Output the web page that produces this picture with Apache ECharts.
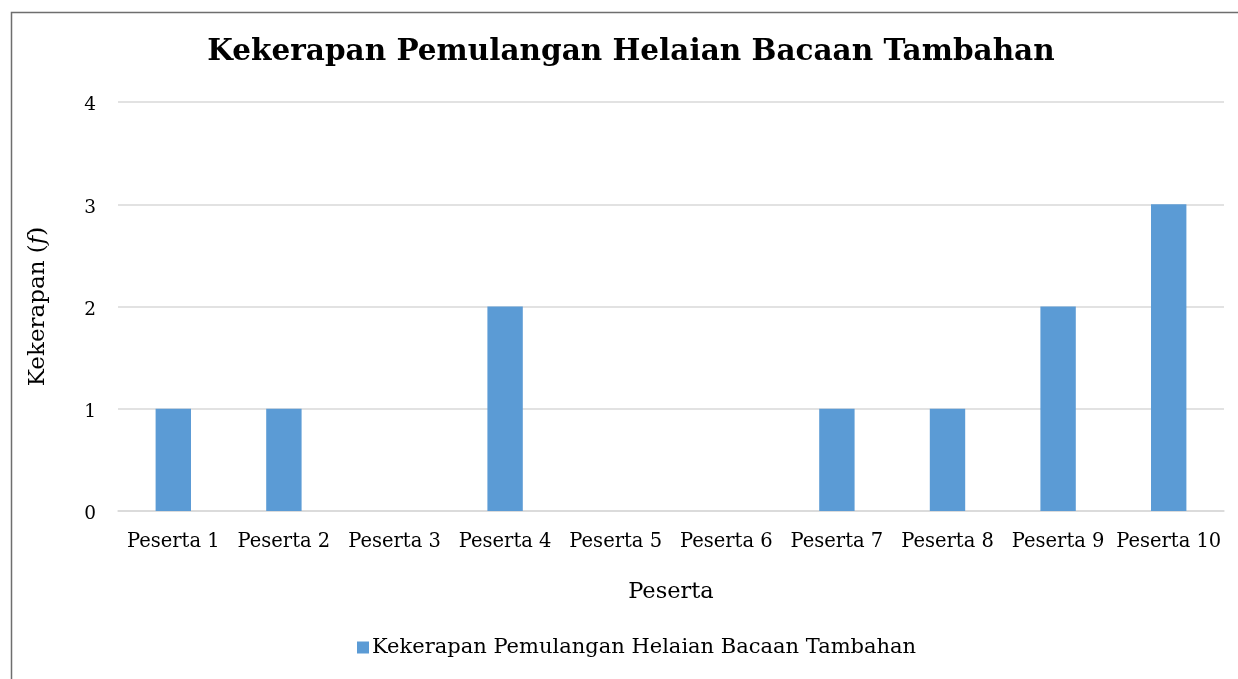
<!DOCTYPE html>
<html><head><meta charset="utf-8">
<script src="https://cdn.jsdelivr.net/npm/echarts@6/dist/echarts.min.js"></script>
<style>html,body{margin:0;padding:0;background:#fff;}#c{width:1238px;height:679px;}</style>
</head><body><div id="c"></div>
<script>
const categories = ['Peserta 1','Peserta 2','Peserta 3','Peserta 4','Peserta 5','Peserta 6','Peserta 7','Peserta 8','Peserta 9','Peserta 10'];
const values = [1, 1, 0, 2, 0, 0, 1, 1, 2, 3];
const seriesName = 'Kekerapan Pemulangan Helaian Bacaan Tambahan';
const titleText = 'Kekerapan Pemulangan Helaian Bacaan Tambahan';
const xName = 'Peserta';
const yTicks = [0, 1, 2, 3, 4];

const FONT = 'Georgia, "DejaVu Serif", serif';
const chart = echarts.init(document.getElementById('c'), null, {renderer: 'canvas'});
chart.setOption({
  backgroundColor: '#fff',
  animation: false,
  graphic: [{
    type: 'rect', shape: {x: 11.5, y: 12.5, width: 1300, height: 700},
    style: {fill: 'none', stroke: '#6e6e6e', lineWidth: 1.5}, silent: true
  }],
  title: {
    text: titleText, left: 626, top: 32, textAlign: 'center',
    textStyle: {fontFamily: FONT, fontWeight: 'bold', fontSize: 29.5, color: '#000'}
  },
  legend: {
    data: [seriesName], left: 352, top: 632, itemWidth: 12, itemHeight: 12, itemGap: 6,
    icon: 'rect',
    textStyle: {fontFamily: FONT, fontSize: 21, color: '#000', padding: [0,0,0,-2]}
  },
  grid: {left: 118, right: 14, top: 102, bottom: 168, containLabel: false},
  xAxis: {
    type: 'category', data: categories,
    name: xName, nameLocation: 'middle', nameGap: 70,
    nameTextStyle: {fontFamily: FONT, fontSize: 22.5, color: '#000'},
    axisLine: {show: true, lineStyle: {color: '#d9d9d9', width: 1.5}},
    axisTick: {show: false},
    axisLabel: {fontFamily: FONT, fontSize: 19.5, color: '#000', margin: 21, interval: 0}
  },
  yAxis: {
    type: 'value', min: 0, max: 4, interval: 1,
    name: 'Kekerapan ({i|f})', nameLocation: 'middle', nameGap: 68, nameRotate: 90,
    nameTextStyle: {fontFamily: FONT, fontSize: 23, color: '#000',
      rich: {i: {fontFamily: FONT, fontStyle: 'italic', fontSize: 23, color: '#000'}}},
    axisLine: {show: false}, axisTick: {show: false},
    axisLabel: {fontFamily: FONT, fontSize: 18.5, color: '#000', margin: 22, verticalAlign: 'top', padding: [-6,0,0,0]},
    splitLine: {lineStyle: {color: '#d9d9d9', width: 1.5}}
  },
  series: [{
    name: seriesName, type: 'bar', data: values, barWidth: '32%',
    itemStyle: {color: '#5B9BD5'}
  }]
});
</script></body></html>
